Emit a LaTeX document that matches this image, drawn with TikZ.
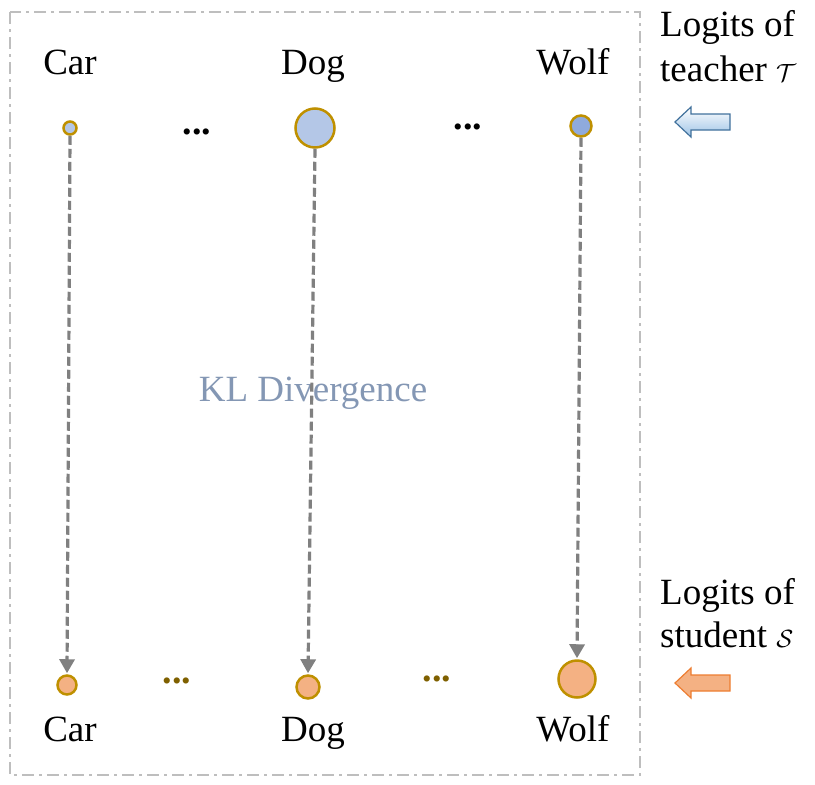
\documentclass[tikz,border=0pt]{standalone}
\usepackage{fontspec}
\setmainfont{Liberation Serif}
\usetikzlibrary{arrows.meta,shadings}
\definecolor{frameg}{RGB}{190,190,190}
\definecolor{gold}{RGB}{191,144,0}
\definecolor{tblue}{RGB}{180,199,231}
\definecolor{tblued}{RGB}{143,170,220}
\definecolor{sorange}{RGB}{244,177,131}
\definecolor{oline}{RGB}{237,125,49}
\definecolor{bline}{RGB}{65,113,156}
\definecolor{ablue}{RGB}{157,195,230}
\definecolor{klc}{RGB}{132,151,180}
\definecolor{dotb}{RGB}{127,96,0}
\definecolor{arrg}{RGB}{128,128,128}
\tikzset{
  lbl/.style={font=\fontsize{37}{42}\selectfont, inner sep=0pt, anchor=base},
  dotl/.style={font=\fontsize{38}{40}\selectfont\bfseries, inner sep=0pt},
  tcirc/.style={circle, draw=gold, line width=2.5pt, fill=tblue, inner sep=0pt},
  scirc/.style={circle, draw=gold, line width=2.5pt, fill=sorange, inner sep=0pt},
  kl/.style={arrg, line width=3.2pt, dash pattern=on 9pt off 4pt, -{Triangle[width=15pt,length=14pt]}, shorten >=1pt},
  barrow/.style={line width=1.2pt, line join=miter}
}
\begin{document}
\begin{tikzpicture}[x=1pt,y=-1pt]
\useasboundingbox (0,0) rectangle (815,785);
\draw[frameg, line width=2pt, dash pattern=on 12pt off 5pt on 3pt off 5pt] (10,12) rectangle (640,775);
% labels
\node[lbl] (tcar) at (70,74) {Car};
\node[lbl] (tdog) at (313,74) {Dog};
\node[lbl] (twolf) at (573,74) {Wolf};
\node[lbl] (scar) at (70,741) {Car};
\node[lbl] (sdog) at (313,741) {Dog};
\node[lbl] (swolf) at (573,741) {Wolf};
\node[lbl, text=klc] (kl) at (313,401) {KL Divergence};
% circles
\node[tcirc, minimum size=13pt] (tc) at (70,128) {};
\node[tcirc, minimum size=39pt] (td) at (315,128) {};
\node[tcirc, fill=tblued, minimum size=21pt] (tw) at (581,126) {};
\node[scirc, minimum size=19pt] (sc) at (67,685) {};
\node[scirc, minimum size=23pt] (sd) at (308,687) {};
\node[scirc, minimum size=37pt] (sw) at (577,679) {};
% dots
\node[dotl, anchor=base] (td1) at (197,134) {...};
\node[dotl, anchor=base] (td2) at (468,129) {...};
\node[dotl, anchor=base, text=dotb] (sd1) at (177,683) {...};
\node[dotl, anchor=base, text=dotb] (sd2) at (437,681) {...};
% KL arrows
\draw[kl] (tc.south) -- (sc.north);
\draw[kl] (td.south) -- (sd.north);
\draw[kl] (tw.south) -- (sw.north);
% right side
\node[lbl, anchor=base west] (lt1) at (660,36) {Logits of};
\node[lbl, anchor=base west] (lt2) at (660,81) {teacher $\mathcal{T}$};
\node[lbl, anchor=base west] (ls1) at (660,604) {Logits of};
\node[lbl, anchor=base west] (ls2) at (660,647) {student $\mathcal{S}$};
\coordinate (ta) at (675,122);
\coordinate (sa) at (675,683);
\draw[barrow, draw=bline, top color=white, bottom color=ablue]
  (ta) -- ++(16,-15) -- ++(0,7) -- ++(39,0) -- ++(0,16) -- ++(-39,0) -- ++(0,7) -- cycle;
\draw[barrow, draw=oline, fill=sorange]
  (sa) -- ++(16,-15) -- ++(0,7) -- ++(39,0) -- ++(0,16) -- ++(-39,0) -- ++(0,7) -- cycle;
\end{tikzpicture}
\end{document}
